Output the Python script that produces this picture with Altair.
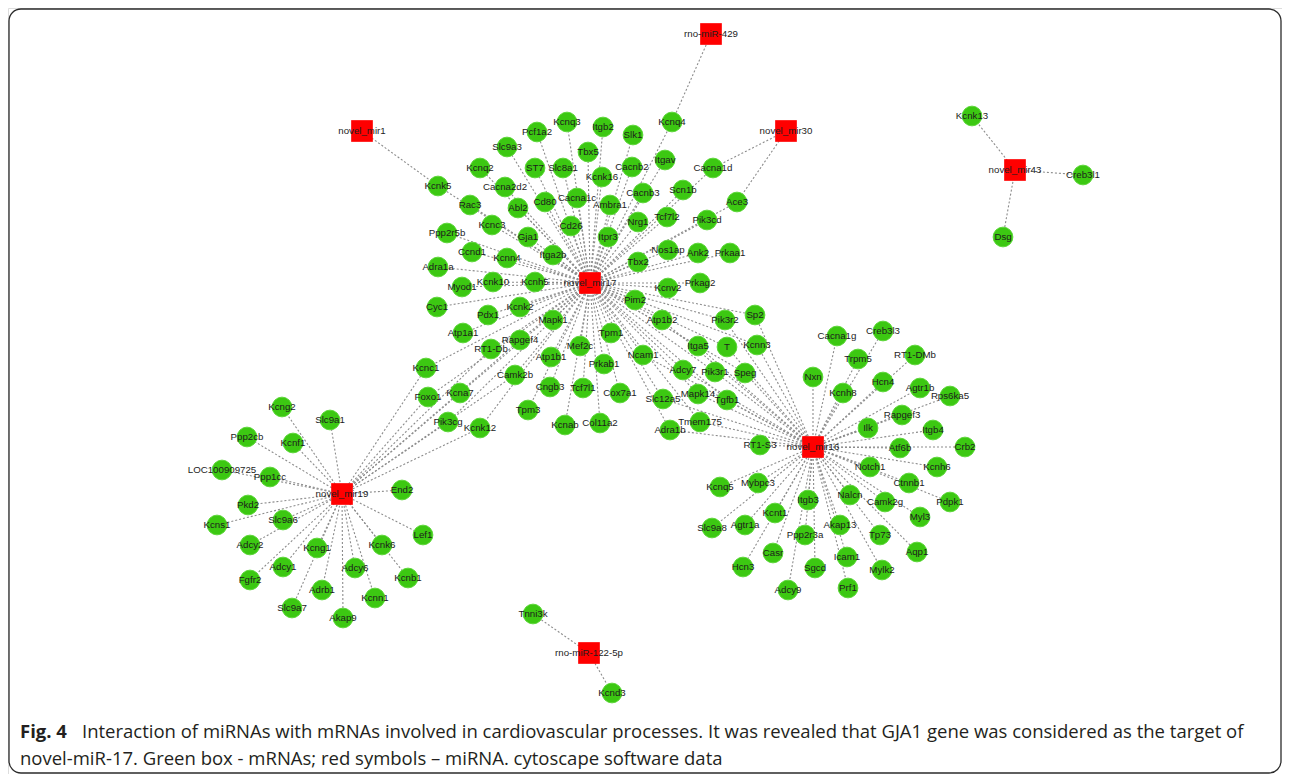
import altair as alt
import pandas as pd

# ---- miRNA nodes (red squares) ----
mirna_names = ["rno-miR-429", "novel_mir1", "novel_mir30", "novel_mir43",
               "novel_mir17", "novel_mir19", "novel_mir16", "rno-miR-122-5p"]
mirna_x = [711, 362, 786, 1015, 590, 342, 813, 589]
mirna_y = [34, 131, 131, 170, 283, 494, 447, 653]

# ---- mRNA nodes (green circles) ----
gene_names = [
    # novel_mir17 cluster
    "Kcnq3", "Itgb2", "Pcf1a2", "Slk1", "Slc9a3", "Tbx5", "Itgav", "Cacnb2", "Kcnq2", "ST7",
    "Slc8a1", "Kcnk16", "Kcnk5", "Cacna2d2", "Scn1b", "Cacnb3", "Cacna1c", "Cd80", "Rac3", "Ambra1",
    "Abl2", "Tcf7l2", "Pik3cd", "Nrg1", "Kcnc3", "Cd26", "Ppp2r5b", "Gja1", "Itpr3", "Nos1ap",
    "Ccnd1", "Ank2", "Prkaa1", "Itga2b", "Kcnn4", "Tbx2", "Adra1a", "Kcnk10", "Kcnh5", "Prkag2",
    "Myod1", "Kcnv2", "Pim2", "Cyc1", "Kcnk2", "Pdx1", "Mapk1", "Atp1b2", "Pik3r2", "Sp2",
    "Tpm1", "Atp1a1", "Rapgef4", "Mef2c", "RT1-Db", "Itga5", "T", "Kcnn3", "Ncam1", "Atp1b1",
    "Prkab1", "Kcnc1", "Adcy7", "Pik3r1", "Speg", "Camk2b", "Cngb3", "Tcf7l1", "Kcna7", "Cox7a1",
    "Foxo1", "Slc12a5", "Mapk14", "Tgfb1", "Tpm3", "Pik3cg", "Tmem175", "Col11a2", "Kcnab", "Kcnk12",
    "Adra1b", "RT1-S3", "Kcnq4", "Cacna1d", "Ace3",
    # novel_mir16 cluster
    "Creb3l3", "Cacna1g", "Trpm5", "RT1-DMb", "Nxn", "Hcn4", "Agtr1b", "Kcnh8", "Rps6ka5", "Rapgef3",
    "Ilk", "Itgb4", "Atf6b", "Crb2", "Notch1", "Kcnh6", "Ctnnb1", "Kcnq5", "Mybpc3", "Nalcn",
    "Itgb3", "Camk2g", "Pdpk1", "Kcnt1", "Myl3", "Akap13", "Agtr1a", "Slc9a8", "Ppp2r3a", "Tp73",
    "Aqp1", "Casr", "Icam1", "Hcn3", "Sgcd", "Mylk2", "Adcy9", "Prf1",
    # novel_mir19 cluster
    "Kcng2", "Slc9a1", "Ppp2cb", "Kcnf1", "LOC100909725", "Ppp1cc", "End2", "Pkd2", "Slc9a6", "Kcns1",
    "Lef1", "Kcnk6", "Adcy2", "Kcng1", "Adcy1", "Adcy6", "Kcnb1", "Fgfr2", "Adrb1", "Kcnn1",
    "Slc9a7", "Akap9",
    # small clusters
    "Kcnk13", "Creb3l1", "Dsg", "Tnni3k", "Kcnd3",
]
gene_x = [
    567, 603, 537, 633, 507, 588, 665, 632, 480, 535,
    563, 602, 438, 505, 683, 643, 577, 545, 470, 610,
    518, 667, 707, 638, 492, 571, 447, 528, 608, 668,
    472, 698, 730, 553, 507, 638, 438, 493, 535, 700,
    462, 668, 635, 437, 520, 488, 553, 662, 725, 755,
    611, 463, 520, 580, 491, 698, 727, 757, 643, 551,
    604, 426, 683, 715, 745, 515, 550, 583, 460, 620,
    428, 663, 698, 727, 528, 448, 700, 600, 565, 480,
    670, 760, 672, 713, 737,
    883, 837, 858, 915, 813, 883, 920, 843, 950, 902,
    868, 933, 900, 965, 870, 937, 909, 720, 758, 850,
    808, 885, 950, 775, 920, 840, 745, 712, 805, 880,
    917, 773, 847, 743, 815, 882, 788, 848,
    282, 330, 247, 293, 222, 270, 402, 248, 283, 217,
    423, 382, 250, 317, 283, 355, 408, 250, 322, 375,
    292, 343,
    972, 1083, 1003, 533, 612,
]
gene_y = [
    122, 127, 132, 135, 147, 152, 160, 167, 168, 168,
    168, 177, 186, 187, 190, 193, 198, 202, 205, 205,
    208, 217, 220, 222, 225, 226, 233, 237, 237, 250,
    252, 253, 253, 255, 258, 262, 267, 282, 282, 283,
    287, 288, 300, 307, 307, 315, 320, 320, 320, 315,
    333, 333, 340, 346, 349, 346, 347, 345, 355, 357,
    364, 368, 370, 372, 373, 375, 387, 388, 393, 393,
    397, 399, 394, 400, 410, 422, 422, 423, 425, 428,
    430, 445, 122, 168, 202,
    331, 336, 359, 355, 377, 382, 388, 393, 396, 415,
    428, 430, 448, 447, 467, 467, 483, 487, 483, 495,
    500, 502, 502, 513, 517, 525, 525, 528, 535, 535,
    552, 553, 557, 567, 568, 570, 590, 588,
    407, 420, 437, 443, 470, 477, 490, 505, 520, 525,
    535, 545, 545, 548, 567, 568, 578, 580, 590, 598,
    608, 618,
    116, 175, 237, 614, 693,
]

# ---- interactions (miRNA -> target mRNAs) ----
targets_mir17 = [
    "Kcnq3", "Itgb2", "Pcf1a2", "Slk1", "Slc9a3", "Tbx5", "Itgav", "Cacnb2", "Kcnq2", "ST7",
    "Slc8a1", "Kcnk16", "Kcnk5", "Cacna2d2", "Scn1b", "Cacnb3", "Cacna1c", "Cd80", "Rac3", "Ambra1",
    "Abl2", "Tcf7l2", "Pik3cd", "Nrg1", "Kcnc3", "Cd26", "Ppp2r5b", "Gja1", "Itpr3", "Nos1ap",
    "Ccnd1", "Ank2", "Prkaa1", "Itga2b", "Kcnn4", "Tbx2", "Adra1a", "Kcnk10", "Kcnh5", "Prkag2",
    "Myod1", "Kcnv2", "Pim2", "Cyc1", "Kcnk2", "Pdx1", "Mapk1", "Atp1b2", "Pik3r2", "Sp2",
    "Tpm1", "Atp1a1", "Rapgef4", "Mef2c", "RT1-Db", "Itga5", "T", "Kcnn3", "Ncam1", "Atp1b1",
    "Prkab1", "Kcnc1", "Adcy7", "Pik3r1", "Speg", "Camk2b", "Cngb3", "Tcf7l1", "Kcna7", "Cox7a1",
    "Foxo1", "Slc12a5", "Mapk14", "Tgfb1", "Tpm3", "Pik3cg", "Tmem175", "Col11a2", "Kcnab", "Kcnk12",
    "Adra1b", "Kcnq4", "Cacna1d", "Ace3",
]
targets_mir16 = [
    "Creb3l3", "Cacna1g", "Trpm5", "RT1-DMb", "Nxn", "Hcn4", "Agtr1b", "Kcnh8", "Rps6ka5", "Rapgef3",
    "Ilk", "Itgb4", "Atf6b", "Crb2", "Notch1", "Kcnh6", "Ctnnb1", "Kcnq5", "Mybpc3", "Nalcn",
    "Itgb3", "Camk2g", "Pdpk1", "Kcnt1", "Myl3", "Akap13", "Agtr1a", "Slc9a8", "Ppp2r3a", "Tp73",
    "Aqp1", "Casr", "Icam1", "Hcn3", "Sgcd", "Mylk2", "Adcy9", "Prf1", "RT1-S3",
    "Sp2", "Pik3r2", "Kcnn3", "T", "Itga5", "Adcy7", "Pik3r1", "Speg", "Slc12a5", "Mapk14",
    "Tgfb1", "Tmem175", "Adra1b", "Ncam1", "Atp1b2",
]
targets_mir19 = [
    "Kcng2", "Slc9a1", "Ppp2cb", "Kcnf1", "LOC100909725", "Ppp1cc", "End2", "Pkd2", "Slc9a6", "Kcns1",
    "Lef1", "Kcnk6", "Adcy2", "Kcng1", "Adcy1", "Adcy6", "Kcnb1", "Fgfr2", "Adrb1", "Kcnn1",
    "Slc9a7", "Akap9", "Kcnc1", "Foxo1", "Kcna7", "Pik3cg", "Kcnk12", "Camk2b", "RT1-Db", "Rapgef4",
]
targets_mir1 = ["Kcnk5"]
targets_mir429 = ["Kcnq4"]
targets_mir30 = ["Cacna1d", "Ace3"]
targets_mir43 = ["Kcnk13", "Creb3l1", "Dsg"]
targets_mir122 = ["Tnni3k", "Kcnd3"]

caption_bold = "Fig. 4"
caption_line1 = ("Interaction of miRNAs with mRNAs involved in cardiovascular processes. "
                 "It was revealed that GJA1 gene was considered as the target of")
caption_line2 = "novel-miR-17. Green box - mRNAs; red symbols \u2013 miRNA. cytoscape software data"

# ---- build tables ----
genes = pd.DataFrame({"name": gene_names, "x": gene_x, "y": gene_y})
mirnas = pd.DataFrame({"name": mirna_names, "x": mirna_x, "y": mirna_y})
pos = {n: (x, y) for n, x, y in zip(gene_names + mirna_names, gene_x + mirna_x, gene_y + mirna_y)}

groups = [("novel_mir17", targets_mir17), ("novel_mir16", targets_mir16),
          ("novel_mir19", targets_mir19), ("novel_mir1", targets_mir1),
          ("rno-miR-429", targets_mir429), ("novel_mir30", targets_mir30),
          ("novel_mir43", targets_mir43), ("rno-miR-122-5p", targets_mir122)]
rows = []
for src, tl in groups:
    for t in tl:
        rows.append({"x": pos[src][0], "y": pos[src][1], "x2": pos[t][0], "y2": pos[t][1]})
edges = pd.DataFrame(rows)

W, H = 1274, 766
xsc = alt.Scale(domain=[8, 8 + W], range=[0, W], nice=False, zero=False)
ysc = alt.Scale(domain=[8, 8 + H], range=[0, H], nice=False, zero=False)

frame = alt.Chart(pd.DataFrame({"k": [0]})).mark_rect(
    fillOpacity=0, fill="white", stroke="#2b2b2b", strokeWidth=1.3, cornerRadius=12
).encode(x=alt.value(1), x2=alt.value(W - 1), y=alt.value(1), y2=alt.value(H - 1))

edge_layer = alt.Chart(edges).mark_rule(
    color="#8c8c8c", strokeWidth=1.1, strokeDash=[2, 2]
).encode(
    x=alt.X("x:Q", scale=xsc, axis=None),
    y=alt.Y("y:Q", scale=ysc, axis=None),
    x2="x2:Q", y2="y2:Q",
)

gene_layer = alt.Chart(genes).mark_circle(
    size=390, color="#3cc812", opacity=1, stroke="#5ad636", strokeWidth=1
).encode(
    x=alt.X("x:Q", scale=xsc, axis=None),
    y=alt.Y("y:Q", scale=ysc, axis=None),
)

mirna_layer = alt.Chart(mirnas).mark_square(
    size=470, color="#ff0000", opacity=1
).encode(
    x=alt.X("x:Q", scale=xsc, axis=None),
    y=alt.Y("y:Q", scale=ysc, axis=None),
)

label_data = pd.concat([genes, mirnas], ignore_index=True)
label_layer = alt.Chart(label_data).mark_text(
    font="Liberation Sans", fontSize=9.7, color="#1c1c1c", align="center", baseline="middle"
).encode(
    x=alt.X("x:Q", scale=xsc, axis=None),
    y=alt.Y("y:Q", scale=ysc, axis=None),
    text="name:N",
)

CAP_FONT = "Open Sans"
CAP_SIZE = 18.5
cap_bold = alt.Chart(pd.DataFrame({"t": [caption_bold]})).mark_text(
    font=CAP_FONT, fontSize=CAP_SIZE, fontWeight="bold", color="#231f20", align="left", baseline="alphabetic"
).encode(x=alt.value(12), y=alt.value(730), text="t:N")

cap1 = alt.Chart(pd.DataFrame({"t": [caption_line1]})).mark_text(
    font=CAP_FONT, fontSize=CAP_SIZE, color="#231f20", align="left", baseline="alphabetic"
).encode(x=alt.value(74), y=alt.value(730), text="t:N")

cap2 = alt.Chart(pd.DataFrame({"t": [caption_line2]})).mark_text(
    font=CAP_FONT, fontSize=CAP_SIZE, color="#231f20", align="left", baseline="alphabetic"
).encode(x=alt.value(12), y=alt.value(757), text="t:N")

chart = alt.layer(
    frame, edge_layer, gene_layer, mirna_layer, label_layer, cap_bold, cap1, cap2
).properties(
    width=W, height=H, padding=0,
    autosize=alt.AutoSizeParams(type="fit", contains="padding"),
).configure_view(
    strokeWidth=0
).configure(background="white")

chart.save("out.html", embed_options={"renderer": "svg", "actions": False})
